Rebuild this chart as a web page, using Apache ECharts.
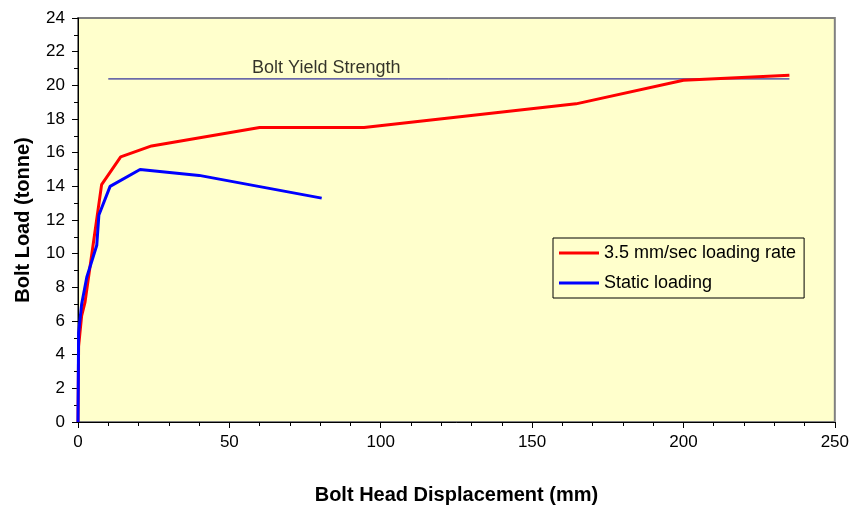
<!DOCTYPE html>
<html>
<head>
<meta charset="utf-8">
<script src="https://cdn.jsdelivr.net/npm/echarts@6/dist/echarts.min.js"></script>
<style>html,body{margin:0;padding:0;background:#fff;}#c{width:852px;height:510px;}</style>
</head>
<body>
<div id="c"></div>
<script>
// Data
const rateName = '3.5 mm/sec loading rate';
const rateX = [0, 0.2, 1.2, 2.3, 7.8, 14.1, 24.3, 60, 94.5, 164.5, 200, 235];
const rateY = [0, 4.5, 6.3, 7.1, 14.1, 15.75, 16.4, 17.5, 17.5, 18.9, 20.3, 20.6];

const staticName = 'Static loading';
const staticX = [0, 0.2, 1.2, 2.9, 6.2, 6.9, 10.6, 20.5, 40, 80.5];
const staticY = [0, 5.3, 7.0, 8.6, 10.5, 12.3, 14.0, 15.0, 14.65, 13.3];

const yieldLabel = 'Bolt Yield Strength';
const yieldX = [10, 235];
const yieldY = [20.38, 20.38];
const yieldLabelPos = [82, 21.05];

const xTitle = 'Bolt Head Displacement (mm)';
const yTitle = 'Bolt Load (tonne)';

const FONT = "'Liberation Sans', Arial, sans-serif";
const zip = (xs, ys) => xs.map((x, i) => [x, ys[i]]);

const chart = echarts.init(document.getElementById('c'), null, {renderer: 'canvas'});
chart.setOption({
  animation: false,
  backgroundColor: '#ffffff',
  textStyle: {fontFamily: FONT},
  grid: {
    left: 78, right: 17, top: 18, bottom: 88,
    show: true, backgroundColor: '#FFFFCC', borderColor: '#808080', borderWidth: 2
  },
  xAxis: {
    type: 'value', min: 0, max: 250, interval: 50,
    name: xTitle, nameLocation: 'middle', nameGap: 63,
    nameTextStyle: {fontFamily: FONT, fontSize: 20, fontWeight: 'bold', color: '#000'},
    axisLine: {show: true, lineStyle: {color: '#000', width: 1}},
    axisTick: {show: true, length: 6, lineStyle: {color: '#000'}},
    minorTick: {show: true, splitNumber: 5, length: 4, lineStyle: {color: '#000'}},
    axisLabel: {fontFamily: FONT, fontSize: 17, color: '#000', margin: 12},
    splitLine: {show: false}
  },
  yAxis: {
    type: 'value', min: 0, max: 24, interval: 2,
    name: yTitle, nameLocation: 'middle', nameGap: 45, nameRotate: 90,
    nameTextStyle: {fontFamily: FONT, fontSize: 20, fontWeight: 'bold', color: '#000'},
    axisLine: {show: true, lineStyle: {color: '#000', width: 1}},
    axisTick: {show: true, length: 6, lineStyle: {color: '#000'}},
    minorTick: {show: true, splitNumber: 2, length: 4, lineStyle: {color: '#000'}},
    axisLabel: {fontFamily: FONT, fontSize: 17, color: '#000', margin: 13},
    splitLine: {show: false}
  },
  legend: {
    left: 553, top: 238,
    orient: 'vertical',
    data: [rateName, staticName],
    icon: 'rect', itemWidth: 40, itemHeight: 3, itemGap: 12,
    padding: [6, 8, 6, 6],
    borderColor: '#000', borderWidth: 1, backgroundColor: '#FFFFCC',
    textStyle: {fontFamily: FONT, fontSize: 18, color: '#000'}
  },
  series: [
    {
      name: yieldLabel, type: 'line', data: zip(yieldX, yieldY),
      showSymbol: false, symbol: 'none', silent: true,
      lineStyle: {color: '#000090', width: 1}, z: 1
    },
    {
      name: 'yieldText', type: 'scatter', data: [yieldLabelPos],
      symbolSize: 0, silent: true,
      label: {show: true, position: 'inside', formatter: yieldLabel,
        fontFamily: FONT, fontSize: 18, color: '#000'}
    },
    {
      name: rateName, type: 'line', data: zip(rateX, rateY),
      showSymbol: false, symbol: 'none', color: '#FF0000',
      lineStyle: {color: '#FF0000', width: 3}, z: 3
    },
    {
      name: staticName, type: 'line', data: zip(staticX, staticY),
      showSymbol: false, symbol: 'none', color: '#0000FF',
      lineStyle: {color: '#0000FF', width: 3}, z: 4
    }
  ]
});
</script>
</body>
</html>
